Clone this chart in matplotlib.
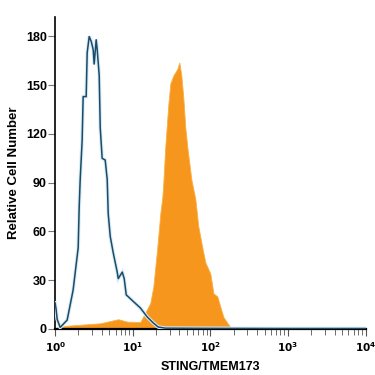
import numpy as np
import matplotlib
matplotlib.use('Agg')
from matplotlib import pyplot as plt
from matplotlib.ticker import LogLocator, FixedLocator

plt.rcParams['font.family'] = ['Liberation Sans Narrow', 'Liberation Sans', 'DejaVu Sans']

# isotype control (outline), log10 of intensity vs count
ctrl_log = [0.0, 0.013, 0.026, 0.065, 0.155, 0.232, 0.297, 0.310, 0.323, 0.348, 0.361, 0.400,
            0.413, 0.439, 0.465, 0.490, 0.503, 0.529, 0.542, 0.568, 0.581, 0.606,
            0.645, 0.671, 0.684, 0.710, 0.748, 0.800, 0.813, 0.865, 0.890, 0.916,
            1.006, 1.097, 1.187, 1.265, 1.329, 1.42, 2.0, 3.0, 4.0]
ctrl_cnt = [16, 12, 6, 1, 5.5, 24, 50, 75, 92, 116, 143, 143,
            170, 180, 177, 172, 163, 178, 172, 156, 124, 105,
            104, 92, 71, 57, 47, 35, 31, 35, 31, 21,
            17, 13, 7.4, 3.7, 1.2, 0.5, 0.4, 0.3, 0.3]

# STING/TMEM173 stained (filled)
sting_log = [0.0, 0.026, 0.155, 0.581, 0.813, 0.929, 1.097, 1.161, 1.226, 1.265,
             1.316, 1.355, 1.381, 1.394, 1.419, 1.458, 1.484, 1.523, 1.574, 1.600,
             1.626, 1.652, 1.677, 1.703, 1.729, 1.755, 1.806, 1.845, 1.897, 1.935,
             2.000, 2.039, 2.090, 2.129, 2.168, 2.219, 2.258, 2.39, 3.0, 4.0]
sting_cnt = [0.5, 1, 2, 3.5, 6, 4.5, 4.3, 10, 16, 26,
             50, 71, 81, 90, 112, 138, 151, 156, 160, 164,
             156, 142, 124, 112, 102, 92, 80, 63, 50, 41,
             34, 22, 20, 13.5, 7.4, 3.7, 1.2, 0.4, 0.2, 0.2]

yticks = [0, 30, 60, 90, 120, 150, 180]

fig = plt.figure(figsize=(3.75, 3.75), dpi=100)
ax = fig.add_axes([0.147, 0.1227, 0.829, 0.832])

sx = 10 ** np.array(sting_log)
cx = 10 ** np.array(ctrl_log)
ax.fill_between(sx, 0, sting_cnt, color='#f7961d', lw=0.6, edgecolor='#f9b040', zorder=2)
ax.plot(cx, ctrl_cnt, color='#d6ecf7', lw=2.6, zorder=3, solid_joinstyle='miter')
ax.plot(cx, ctrl_cnt, color='#1d4a66', lw=1.1, zorder=4)

ax.set_xscale('log')
ax.set_xlim(1, 10 ** 4.005)
ax.set_ylim(0, 192)
ax.yaxis.set_major_locator(FixedLocator(yticks))
ax.xaxis.set_major_locator(LogLocator(base=10, numticks=10))
ax.xaxis.set_minor_locator(LogLocator(base=10, subs=np.arange(2, 10), numticks=10))
ax.xaxis.set_major_formatter(plt.FuncFormatter(lambda v, p: '$\\mathbf{10^{%d}}$' % round(np.log10(v))))

for s in ['top', 'right']:
    ax.spines[s].set_visible(False)
ax.spines['left'].set_linewidth(1.2)
ax.spines['bottom'].set_linewidth(1.6)
ax.tick_params(axis='y', direction='out', length=5, width=0.8, color='#777777',
               labelsize=9, pad=1)
ax.tick_params(axis='x', which='major', direction='out', length=5, width=0.8,
               color='#555555', labelsize=7.5, pad=3)
ax.tick_params(axis='x', which='minor', direction='out', length=4, width=0.6,
               color='#555555')
for lab in ax.get_yticklabels():
    lab.set_fontweight('bold')

ax.set_xlabel('STING/TMEM173', fontsize=9, fontweight='bold', labelpad=5)
ax.set_ylabel('Relative Cell Number', fontsize=9.5, fontweight='bold', labelpad=4)

fig.savefig('out.png', dpi=100)
